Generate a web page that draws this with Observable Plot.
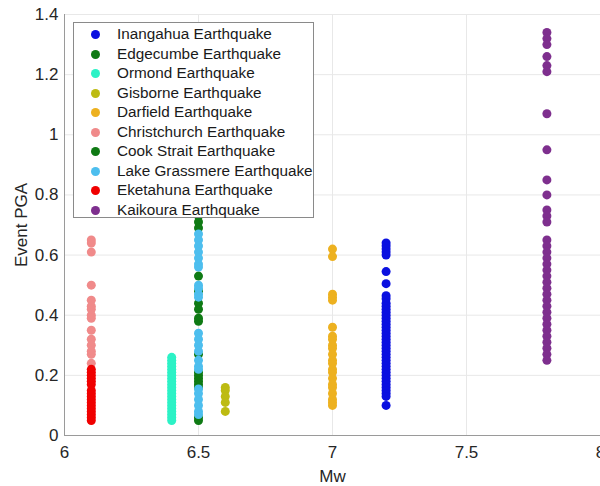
<!DOCTYPE html>
<html>
<head>
<meta charset="utf-8">
<script src="https://cdn.jsdelivr.net/npm/d3@7"></script>
<script src="https://cdn.jsdelivr.net/npm/@observablehq/plot@0.6"></script>
<style>
  html, body { margin: 0; padding: 0; background: #fff; }
  #wrap { position: relative; width: 600px; height: 486px; overflow: hidden; font-family: "Liberation Sans", Arial, sans-serif; }
  #legend { position: absolute; left: 73px; top: 22px; width: 241px; height: 196px; background: #fff; border: 1px solid #8a8a8a; box-sizing: border-box; }
  .row { position: absolute; left: 0; height: 20px; font-size: 15.3px; color: #1a1a1a; white-space: nowrap; }
  .row .dot { position: absolute; left: 17px; top: 6px; width: 9px; height: 9px; border-radius: 50%; }
  .row .lbl { position: absolute; left: 43px; top: 1px; line-height: 18px; }
</style>
</head>
<body>
<div id="wrap"></div>
<script>
// Series (events), magnitudes, colours
const events = ["Inangahua Earthquake","Edgecumbe Earthquake","Ormond Earthquake","Gisborne Earthquake","Darfield Earthquake","Christchurch Earthquake","Cook Strait Earthquake","Lake Grassmere Earthquake","Eketahuna Earthquake","Kaikoura Earthquake"];
const magnitudes = [7.2, 6.5, 6.4, 6.6, 7.0, 6.1, 6.5, 6.5, 6.1, 7.8];
const colors = ["#0a10e0","#0f7a14","#2cf2c6","#bdbb12","#edb120","#f08a8a","#0f7a14","#4dbeee","#f00000","#7e2f8e"];

// PGA values per event
const inangahua = [0.64,0.63,0.62,0.61,0.60,0.545,0.505,0.465,0.455,0.44,0.43,0.42,0.41,0.40,0.39,0.38,0.37,0.36,0.35,0.34,0.33,0.32,0.31,0.30,0.29,0.28,0.27,0.26,0.25,0.24,0.23,0.22,0.21,0.20,0.19,0.18,0.17,0.16,0.15,0.14,0.13,0.10];
const edgecumbe = [0.73,0.71,0.69,0.53,0.48,0.44,0.42,0.39,0.38];
const ormond = [0.26,0.25,0.24,0.23,0.22,0.21,0.20,0.19,0.18,0.17,0.16,0.15,0.14,0.13,0.12,0.11,0.10,0.09,0.08,0.07,0.06,0.05];
const gisborne = [0.16,0.15,0.13,0.11,0.08];
const darfield = [0.62,0.595,0.47,0.46,0.45,0.36,0.33,0.32,0.30,0.29,0.27,0.25,0.24,0.22,0.21,0.19,0.17,0.16,0.14,0.12,0.11,0.10];
const christchurch = [0.65,0.64,0.61,0.50,0.45,0.43,0.42,0.40,0.39,0.35,0.32,0.30,0.28,0.27,0.24];
const cookStrait = [0.27,0.21,0.20,0.19,0.18,0.17,0.16,0.06,0.05];
const lakeGrassmere = [0.67,0.65,0.63,0.61,0.59,0.57,0.56,0.50,0.49,0.47,0.46,0.34,0.32,0.30,0.28,0.25,0.23,0.22,0.155,0.14,0.12,0.10,0.08,0.07];
const eketahuna = [0.22,0.21,0.20,0.19,0.18,0.17,0.15,0.14,0.13,0.12,0.11,0.10,0.09,0.08,0.07,0.06,0.05];
const kaikoura = [1.34,1.32,1.30,1.26,1.23,1.21,1.07,0.95,0.85,0.80,0.75,0.73,0.71,0.65,0.63,0.61,0.59,0.57,0.55,0.53,0.51,0.49,0.47,0.45,0.43,0.41,0.39,0.37,0.35,0.33,0.31,0.29,0.27,0.25];

const xTicks = [6, 6.5, 7, 7.5, 8];
const yTicks = [0, 0.2, 0.4, 0.6, 0.8, 1, 1.2, 1.4];

const pgaSeries = [inangahua, edgecumbe, ormond, gisborne, darfield, christchurch, cookStrait, lakeGrassmere, eketahuna, kaikoura];
const data = pgaSeries.flatMap((vals, i) => vals.map(v => ({event: events[i], mw: magnitudes[i], pga: v})));

const fmt = d => String(+(+d).toFixed(1));

const chart = Plot.plot({
  width: 600,
  height: 486,
  marginLeft: 64,
  marginTop: 14,
  marginBottom: 51,
  marginRight: 0,
  style: {fontFamily: '"Liberation Sans", Arial, sans-serif', fontSize: "17px", color: "#262626", background: "#fff"},
  x: {domain: [6, 8]},
  y: {domain: [0, 1.4]},
  color: {domain: events, range: colors},
  marks: [
    Plot.gridX(xTicks, {stroke: "#e8e8e8", strokeOpacity: 1}),
    Plot.gridY(yTicks, {stroke: "#e8e8e8", strokeOpacity: 1}),
    Plot.ruleX([6], {stroke: "#9a9a9a"}),
    Plot.ruleY([0], {stroke: "#9a9a9a"}),
    Plot.axisX(xTicks, {tickSize: 0, tickPadding: 10, tickFormat: fmt, label: "Mw", labelAnchor: "center", labelArrow: "none", labelOffset: 46, fill: "#262626"}),
    Plot.axisY(yTicks, {tickSize: 0, tickPadding: 6, tickFormat: fmt, label: "Event PGA", labelAnchor: "center", labelArrow: "none", labelOffset: 50, fill: "#262626"}),
    Plot.dot(data, {x: "mw", y: "pga", fill: "event", r: 4.5, stroke: null})
  ]
});

const wrap = document.getElementById("wrap");
wrap.appendChild(chart);

// Legend overlay
const legend = document.createElement("div");
legend.id = "legend";
events.forEach((name, i) => {
  const row = document.createElement("div");
  row.className = "row";
  row.style.top = (1 + i * 19.5) + "px";
  const dot = document.createElement("span");
  dot.className = "dot";
  dot.style.background = colors[i];
  const lbl = document.createElement("span");
  lbl.className = "lbl";
  lbl.textContent = name;
  row.appendChild(dot);
  row.appendChild(lbl);
  legend.appendChild(row);
});
wrap.appendChild(legend);
</script>
</body>
</html>
